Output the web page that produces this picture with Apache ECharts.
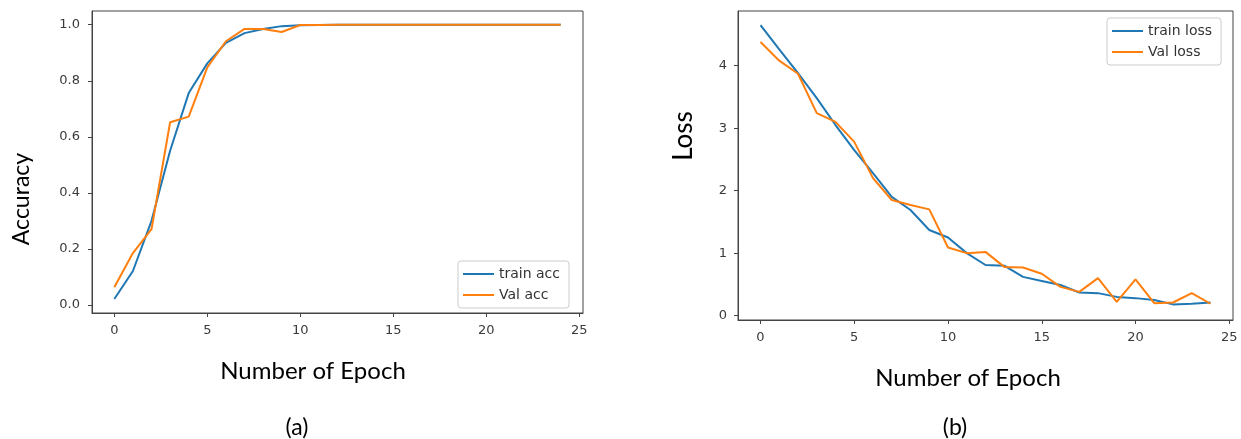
<!DOCTYPE html>
<html>
<head>
<meta charset="utf-8">
<script src="https://cdn.jsdelivr.net/npm/echarts@6/dist/echarts.min.js"></script>
<style>
html,body{margin:0;padding:0;background:#fff;}
#chart{width:1241px;height:439px;}
</style>
</head>
<body>
<div id="chart"></div>
<script>
const epochs = [0,1,2,3,4,5,6,7,8,9,10,11,12,13,14,15,16,17,18,19,20,21,22,23,24];
const trainAcc = [0.021,0.121,0.30,0.55,0.756,0.862,0.935,0.970,0.985,0.995,0.998,0.999,1.0,1.0,1.0,1.0,1.0,1.0,1.0,1.0,1.0,1.0,1.0,1.0,1.0];
const valAcc   = [0.063,0.185,0.270,0.652,0.672,0.848,0.941,0.985,0.985,0.974,0.999,0.999,1.0,1.0,1.0,1.0,1.0,1.0,1.0,1.0,1.0,1.0,1.0,1.0,1.0];
const trainLoss = [4.65,4.26,3.88,3.48,3.05,2.65,2.28,1.90,1.69,1.37,1.25,1.00,0.81,0.80,0.62,0.555,0.49,0.37,0.36,0.30,0.28,0.25,0.18,0.19,0.21];
const valLoss   = [4.38,4.08,3.87,3.24,3.10,2.78,2.20,1.85,1.77,1.70,1.09,1.00,1.02,0.78,0.77,0.67,0.46,0.38,0.60,0.22,0.58,0.20,0.21,0.36,0.19];
const xTicks = [0,5,10,15,20,25];
const accTicks = [0.0,0.2,0.4,0.6,0.8,1.0];
const lossTicks = [0,1,2,3,4];
const seriesNames = ['train acc','Val acc','train loss','Val loss'];
const texts = {accY:'Accuracy', lossY:'Loss', x:'Number of Epoch', a:'(a)', b:'(b)'};

const BLUE = '#1f77b4', ORANGE = '#ff7f0e';
const tickFont = {fontFamily:'DejaVu Sans', fontSize:13, color:'#3a3a3a'};
const labelFont = 'Lato';

function pairs(ys){ return epochs.map((e,i)=>[e, ys[i]]); }

function xAxisCfg(gi){
  return {
    type:'value', gridIndex:gi, min:-1.2, max:25.2,
    axisLine:{show:true, onZero:false, lineStyle:{color:'#444', width:1}},
    axisTick:{show:true, customValues:xTicks, length:4, inside:false, lineStyle:{color:'#444'}},
    axisLabel:Object.assign({customValues:xTicks, margin:11}, tickFont),
    splitLine:{show:false}
  };
}
function yAxisCfg(gi, min, max, ticks, fmt, margin){
  return {
    type:'value', gridIndex:gi, min:min, max:max,
    axisLine:{show:true, onZero:false, lineStyle:{color:'#444', width:1}},
    axisTick:{show:true, customValues:ticks, length:4, inside:false, lineStyle:{color:'#444'}},
    axisLabel:Object.assign({customValues:ticks, margin:margin, formatter:fmt}, tickFont),
    splitLine:{show:false}
  };
}
function lineSeries(name, gi, ys, color){
  return {
    name:name, type:'line', xAxisIndex:gi, yAxisIndex:gi, data:pairs(ys),
    showSymbol:false, symbol:'none', smooth:false,
    lineStyle:{color:color, width:2}, itemStyle:{color:color}, animation:false
  };
}
function legendCfg(names, left, top){
  return {
    data:names, orient:'vertical', left:left, top:top,
    icon:'rect', itemWidth:31, itemHeight:2, itemGap:7,
    textStyle:{fontFamily:'DejaVu Sans', fontSize:14, color:'#333', lineHeight:14},
    padding:[6,9,6,5], borderColor:'#ccc', borderWidth:1, borderRadius:3,
    backgroundColor:'rgba(255,255,255,0.8)', selectedMode:false
  };
}

const chart = echarts.init(document.getElementById('chart'), null, {renderer:'canvas'});
chart.setOption({
  backgroundColor:'#fff',
  animation:false,
  grid:[
    {left:92, top:11, width:491, height:302, show:true, borderColor:'#444', borderWidth:1, containLabel:false},
    {left:738, top:11, width:495, height:309, show:true, borderColor:'#444', borderWidth:1, containLabel:false}
  ],
  xAxis:[xAxisCfg(0), xAxisCfg(1)],
  yAxis:[
    yAxisCfg(0, -0.029, 1.049, accTicks, v=>v.toFixed(1), 12),
    yAxisCfg(1, -0.07, 4.875, lossTicks, v=>String(Math.round(v)), 11)
  ],
  legend:[
    legendCfg([seriesNames[0], seriesNames[1]], 458, 261),
    legendCfg([seriesNames[2], seriesNames[3]], 1107, 18)
  ],
  series:[
    lineSeries(seriesNames[0], 0, trainAcc, BLUE),
    lineSeries(seriesNames[1], 0, valAcc, ORANGE),
    lineSeries(seriesNames[2], 1, trainLoss, BLUE),
    lineSeries(seriesNames[3], 1, valLoss, ORANGE)
  ],
  graphic:[
    {type:'text', x:22, y:199, rotation:Math.PI/2, style:{text:texts.accY, fontFamily:labelFont, fontSize:23, fill:'#000', align:'center', verticalAlign:'middle'}},
    {type:'text', x:684, y:136, rotation:Math.PI/2, style:{text:texts.lossY, fontFamily:labelFont, fontSize:26, fill:'#000', align:'center', verticalAlign:'middle'}},
    {type:'text', x:313, y:371, style:{text:texts.x, fontFamily:labelFont, fontSize:24, fill:'#000', align:'center', verticalAlign:'middle'}},
    {type:'text', x:968, y:378, style:{text:texts.x, fontFamily:labelFont, fontSize:24, fill:'#000', align:'center', verticalAlign:'middle'}},
    {type:'text', x:297, y:428, style:{text:texts.a, fontFamily:labelFont, fontSize:23, fill:'#000', align:'center', verticalAlign:'middle'}},
    {type:'text', x:955, y:428, style:{text:texts.b, fontFamily:labelFont, fontSize:23, fill:'#000', align:'center', verticalAlign:'middle'}}
  ]
});
</script>
</body>
</html>
